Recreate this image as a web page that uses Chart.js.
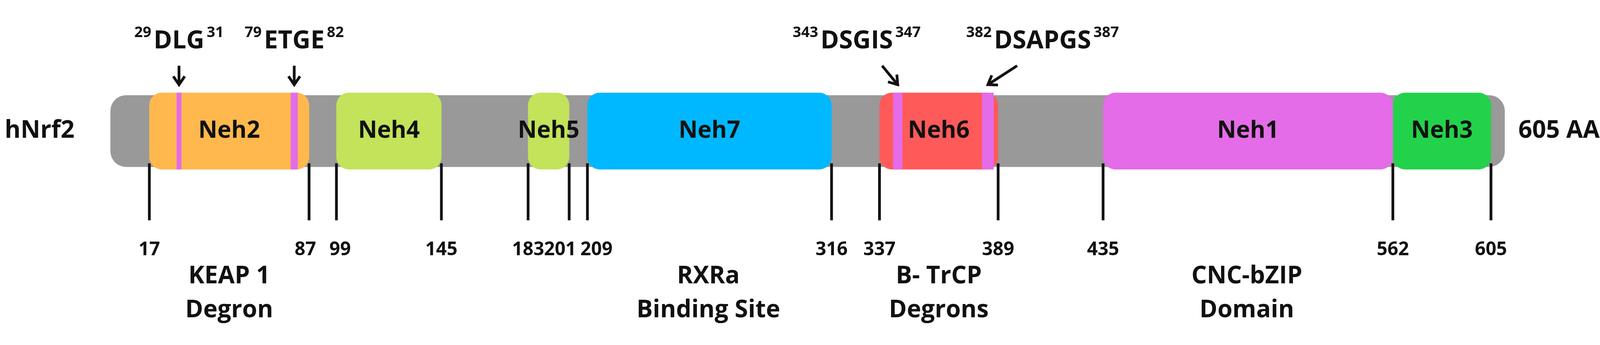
<!DOCTYPE html>
<html><head><meta charset="utf-8">
<script src="https://cdn.jsdelivr.net/npm/chart.js@4"></script>
<style>html,body{margin:0;padding:0;background:#fff}#w{width:4151px;height:884px}</style>
</head><body><div id="w"><canvas id="c"></canvas></div>
<script>
const proteinName = "hNrf2";
const proteinLength = 605;
const domainNames = ["Neh2","Neh4","Neh5","Neh7","Neh6","Neh1","Neh3"];
const domainStart = [17,99,183,209,337,435,562];
const domainEnd   = [87,145,201,316,389,562,605];
const domainColors = ["#FFB84D","#C2E35A","#C2E35A","#00B8FF","#FF5A5A","#E46CE8","#22D24A"];
const motifNames = ["DLG","ETGE","DSGIS","DSAPGS"];
const motifStart = [29,79,343,382];
const motifEnd   = [31,82,347,387];
const boundaryTicks = [17,87,99,145,183,201,209,316,337,389,435,562,605];
const regionLabels = [["KEAP 1","Degron"],["RXRa","Binding Site"],["B- TrCP","Degrons"],["CNC-bZIP","Domain"]];
const regionCenters = [52,262,363,498];

const BAR_Y = 324, FONT = '"Open Sans","Noto Sans",sans-serif';
const datasets = [{data:[{x:[0,611],y:BAR_Y}],backgroundColor:"#999999",barThickness:183,borderRadius:40,borderSkipped:false,order:10}];
domainNames.forEach((n,i)=>datasets.push({data:[{x:[domainStart[i],domainEnd[i]],y:BAR_Y}],backgroundColor:domainColors[i],barThickness:196,borderRadius:32,borderSkipped:false,order:5}));
motifNames.forEach((n,i)=>datasets.push({data:[{x:[motifStart[i],motifEnd[i]],y:BAR_Y}],backgroundColor:"#E46CE8",barThickness:196,borderSkipped:false,order:0}));

const motifText = {
  id:'motifText',
  afterDatasetsDraw(chart){
    const ctx=chart.ctx, xs=chart.scales.x, ys=chart.scales.y;
    ctx.save();
    ctx.fillStyle="#111"; ctx.strokeStyle="#111"; ctx.textBaseline="middle";
    ctx.font=`700 60px ${FONT}`; ctx.textAlign="center";
    domainNames.forEach((n,i)=>ctx.fillText(n,xs.getPixelForValue((domainStart[i]+domainEnd[i])/2),ys.getPixelForValue(BAR_Y)));
    ctx.font=`700 62px ${FONT}`;
    ctx.textAlign="left"; ctx.fillText(proteinName,12,ys.getPixelForValue(BAR_Y));
    ctx.fillText(proteinLength+" AA",xs.getPixelForValue(611)+35,ys.getPixelForValue(BAR_Y));
    const yb=ys.getPixelForValue(416), ye=ys.getPixelForValue(578);
    ctx.lineWidth=7;
    ctx.font=`700 48px ${FONT}`;
    boundaryTicks.forEach(t=>{
      const x=xs.getPixelForValue(t);
      ctx.beginPath();ctx.moveTo(x,yb);ctx.lineTo(x,ye);ctx.stroke();
      let al="center", dx=0;
      if(t===87||t===201){al="right";dx=18;}
      if(t===99||t===209){al="left";dx=-18;}
      ctx.textAlign=al; ctx.fillText(String(t),x+dx,ys.getPixelForValue(662));
    });
    ctx.font=`700 62px ${FONT}`; ctx.textAlign="center";
    regionLabels.forEach((l,i)=>{
      const x=xs.getPixelForValue(regionCenters[i]);
      ctx.fillText(l[0],x,ys.getPixelForValue(738));
      ctx.fillText(l[1],x,ys.getPixelForValue(835));
    });
    const offs=[[0,0],[0,0],[-105,-40],[140,75]];
    motifNames.forEach((n,i)=>{
      const mx=xs.getPixelForValue((motifStart[i]+motifEnd[i])/2);
      const tx=mx+offs[i][0];
      ctx.font=`700 64px ${FONT}`; const w=ctx.measureText(n).width;
      ctx.font=`700 38px ${FONT}`; const s1=String(motifStart[i]), s2=String(motifEnd[i]);
      const w1=ctx.measureText(s1).width, w2=ctx.measureText(s2).width;
      const tot=w1+6+w+6+w2; let x0=tx-tot/2;
      ctx.textAlign="left";
      ctx.fillText(s1,x0,ys.getPixelForValue(44)); x0+=w1+6;
      ctx.font=`700 64px ${FONT}`; ctx.fillText(n,x0,ys.getPixelForValue(68)); x0+=w+6;
      ctx.font=`700 38px ${FONT}`; ctx.fillText(s2,x0,ys.getPixelForValue(44));
      const ax0=mx+offs[i][1], ay0=ys.getPixelForValue(138), ax1=mx, ay1=ys.getPixelForValue(192);
      ctx.lineWidth=7; ctx.beginPath(); ctx.moveTo(ax0,ay0); ctx.lineTo(ax1,ay1); ctx.stroke();
      const ang=Math.atan2(ay1-ay0,ax1-ax0), L=26;
      ctx.beginPath();
      ctx.moveTo(ax1-L*Math.cos(ang-0.6),ay1-L*Math.sin(ang-0.6));
      ctx.lineTo(ax1,ay1);
      ctx.lineTo(ax1-L*Math.cos(ang+0.6),ay1-L*Math.sin(ang+0.6));
      ctx.stroke();
    });
    ctx.restore();
  }
};

new Chart(document.getElementById('c'),{
  type:'bar',
  data:{datasets},
  options:{
    indexAxis:'y', responsive:true, maintainAspectRatio:false, animation:false,
    datasets:{bar:{grouped:false}},
    layout:{padding:0},
    plugins:{legend:{display:false},tooltip:{enabled:false}},
    scales:{
      x:{type:'linear',min:-48.45,max:662.2,display:false},
      y:{type:'linear',min:0,max:884,reverse:true,display:false}
    }
  },
  plugins:[motifText]
});
</script></body></html>
